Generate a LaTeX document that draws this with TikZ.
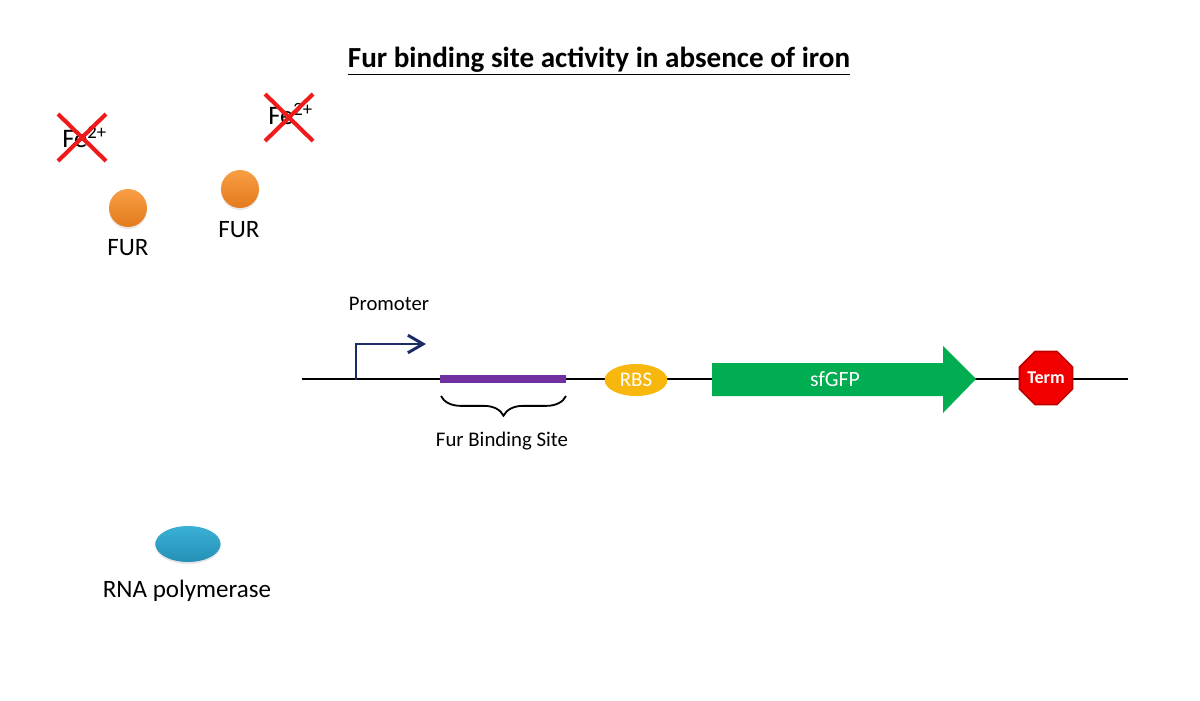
\documentclass[tikz,border=0pt]{standalone}
\usepackage{fontspec}
\setmainfont{Carlito}
\usetikzlibrary{arrows.meta,shapes.geometric,decorations.pathreplacing,shadows}
\definecolor{furorangeT}{HTML}{F99E45}
\definecolor{furorangeB}{HTML}{E37A1C}
\definecolor{xred}{HTML}{F01A1A}
\definecolor{navy}{HTML}{1C2A66}
\definecolor{fbspurple}{HTML}{7030A0}
\definecolor{rbsyellow}{HTML}{F7B70C}
\definecolor{gfpgreen}{HTML}{00AD50}
\definecolor{termred}{HTML}{F20000}
\definecolor{termdark}{HTML}{BE0000}
\definecolor{polT}{HTML}{3AB0D6}
\definecolor{polB}{HTML}{2690B6}
\tikzset{
  fs/.style={font=\fontsize{#1}{#1}\selectfont},
  lbl/.style={inner sep=0pt, anchor=base, fs=#1},
  fur/.style={circle, inner sep=0pt, minimum size=0.95cm, top color=furorangeT, bottom color=furorangeB, draw=none,
     drop shadow={opacity=0.18, shadow xshift=0pt, shadow yshift=-1.5pt}},
  cross/.style={xred, line width=2.9pt},
  dna/.style={line width=1.4pt, black},
  fbs/.style={line width=6.3pt, fbspurple},
  prom/.style={navy, line width=2.1pt, -{Straight Barb[length=0.38cm, width=0.44cm, line width=2.1pt]}},
  rbs/.style={ellipse, inner sep=0pt, minimum width=1.57cm, minimum height=0.8cm, fill=rbsyellow, text=white, fs=14.8},
  term/.style={regular polygon, regular polygon sides=8, minimum size=1.36cm, inner sep=0pt, fill=termred, draw=termdark, line width=1.2pt, text=white, font=\fontsize{12.8}{12.8}\selectfont\bfseries},
  pol/.style={ellipse, inner sep=0pt, minimum width=1.63cm, minimum height=0.9cm, top color=polT, bottom color=polB, draw=none,
     drop shadow={opacity=0.18, shadow xshift=0pt, shadow yshift=-1.5pt}},
  bracestyle/.style={decorate, decoration={brace, mirror, amplitude=14pt}, line width=1.3pt, black},
}
\begin{document}
\begin{tikzpicture}[x=0.025cm, y=-0.025cm]
\useasboundingbox (0,0) rectangle (1200,700);

% Title
\node[lbl=20.7, font=\fontsize{20.7}{20.7}\selectfont\bfseries] (title) at (599,67) {\underline{Fur binding site activity in absence of iron}};

% Fe2+ crossed out
\node[lbl=19, anchor=base west] (fe1) at (62,147) {Fe\textsuperscript{2+}};
\node[lbl=19, anchor=base west] (fe2) at (268,124) {Fe\textsuperscript{2+}};
\coordinate (x1a) at (58,114); \coordinate (x1b) at (106,161);
\coordinate (x1c) at (106,114); \coordinate (x1d) at (58,161);
\coordinate (x2a) at (265,94); \coordinate (x2b) at (313,141);
\coordinate (x2c) at (313,94); \coordinate (x2d) at (265,141);
\draw[cross] (x1a) -- (x1b);
\draw[cross] (x1c) -- (x1d);
\draw[cross] (x2a) -- (x2b);
\draw[cross] (x2c) -- (x2d);

% FUR proteins
\node[fur] (fur1) at (128,208) {};
\node[fur] (fur2) at (240,189) {};
\node[lbl=17.8] (fur1lbl) at (128,255) {FUR};
\node[lbl=17.8] (fur2lbl) at (239,237) {FUR};

% DNA
\coordinate (dnaL) at (302,379);
\coordinate (dnaR) at (1128,379);
\draw[dna] (dnaL) -- (dnaR);

% Promoter
\node[lbl=14.7] (promlbl) at (389,310) {Promoter};
\coordinate (promS) at (356,380);
\coordinate (promE) at (426,344);
\draw[prom] (promS) |- (promE);

% Fur binding site
\coordinate (fbsL) at (440,379);
\coordinate (fbsR) at (566,379);
\draw[fbs] (fbsL) -- (fbsR);
\coordinate (brL) at (441,396);
\coordinate (brR) at (566,396);
\draw[bracestyle] (brL) -- (brR);
\node[lbl=14.8] (fbslbl) at (502,446) {Fur Binding Site};

% RBS
\node[rbs] (rbs) at (636,380) {RBS};

% sfGFP arrow
\coordinate (g1) at (712,363);
\coordinate (g2) at (943,363);
\coordinate (g3) at (943,346);
\coordinate (g4) at (976,379);
\coordinate (g5) at (943,413);
\coordinate (g6) at (943,396);
\coordinate (g7) at (712,396);
\fill[gfpgreen] (g1) -- (g2) -- (g3) -- (g4) -- (g5) -- (g6) -- (g7) -- cycle;
\node[text=white, fs=15.5, inner sep=0pt] (gfp) at (835,379) {sfGFP};

% Terminator
\node[term] (term) at (1046,378) {Term};

% RNA polymerase
\node[pol] (pol) at (188,544) {};
\node[lbl=17.8] (pollbl) at (187,597) {RNA polymerase};
\end{tikzpicture}
\end{document}
